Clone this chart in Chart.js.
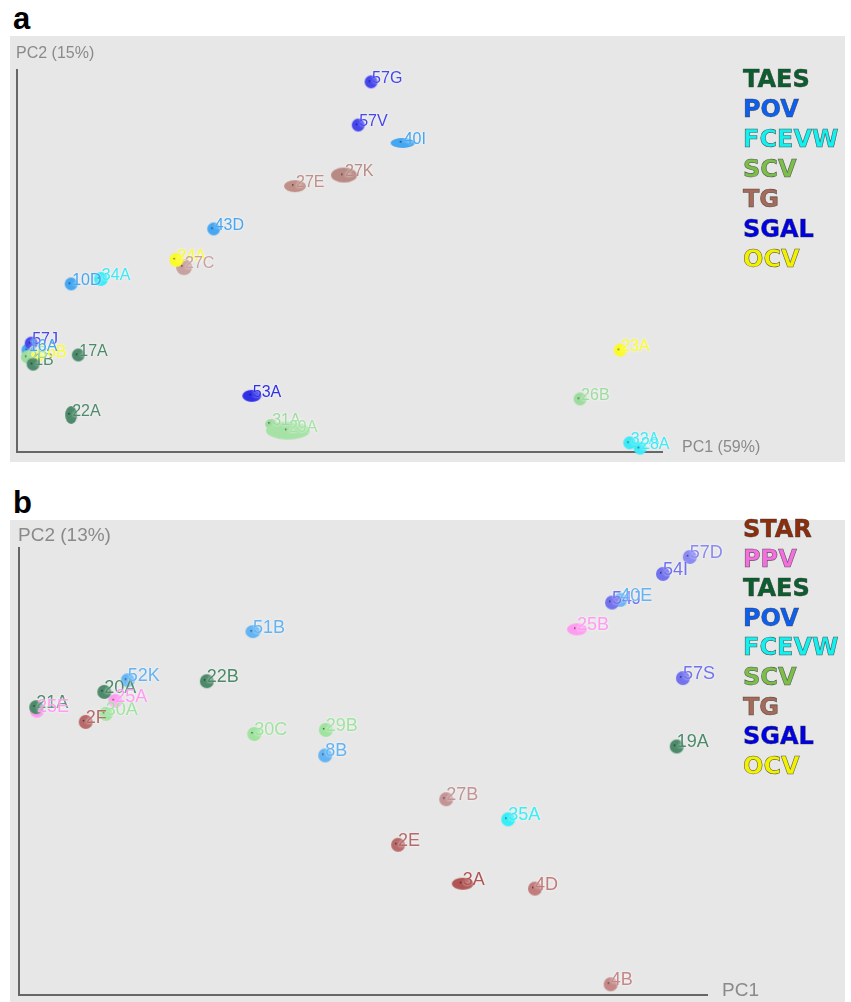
<!DOCTYPE html>
<html>
<head>
<meta charset="utf-8">
<script src="https://cdn.jsdelivr.net/npm/chart.js@4.4.1/dist/chart.umd.min.js"></script>
<style>
body{margin:0;background:#fff;}
#page{position:relative;width:851px;height:1002px;overflow:hidden;font-family:"Liberation Sans",Arial,sans-serif;}
.panel{position:absolute;left:10px;width:835px;background:#e7e7e7;}
.panel canvas{display:block;}
.tag{position:absolute;left:13px;font-weight:bold;font-size:31px;line-height:31px;color:#000;}
.keys{position:absolute;left:743px;font-family:"DejaVu Sans",sans-serif;font-weight:bold;font-size:24px;-webkit-text-stroke:0.6px rgba(50,50,50,0.75);}
</style>
</head>
<body>
<div id="page">
  <div class="tag" style="top:3px">a</div>
  <div class="panel" style="top:36px;height:426px"><canvas id="chartA" width="835" height="426"></canvas></div>
  <div class="keys" id="keysA" style="top:64px;line-height:30px"></div>

  <div class="tag" style="top:487px">b</div>
  <div class="panel" style="top:520px;height:482px"><canvas id="chartB" width="835" height="482"></canvas></div>
  <div class="keys" id="keysB" style="top:515px;line-height:29.6px"></div>
</div>

<script>
// ---- panel a data (PC scores rescaled 0-100)
const namesA = ['57G','57V','40I','27K','27E','43D','24A','27C','10D','34A','57J','16A','6B','36B','1B','17A','22A','53A','31A','29A','26B','23A','32A','28A'];
const groupsA = ['SGAL','SGAL','POV','TG','TG','POV','OCV','TG','POV','FCEVW','SGAL','POV','SCV','OCV','TAES','TAES','TAES','SGAL','SCV','SCV','SCV','OCV','FCEVW','FCEVW'];
const pc1A = [54.9,52.9,59.8,50.7,43.1,30.5,24.7,25.9,8.4,13.0,2.2,1.7,1.6,3.1,2.5,9.5,8.4,36.4,39.4,42.0,87.3,93.5,95.0,96.6];
const pc2A = [96.9,85.6,80.9,72.5,69.6,58.4,50.3,48.4,44.0,45.3,28.5,26.7,24.9,25.1,23.0,25.4,9.7,14.7,7.3,5.6,13.9,26.7,2.4,1.0];
const keysA = ['TAES','POV','FCEVW','SCV','TG','SGAL','OCV'];

// ---- panel b data
const namesB = ['57D','54I','54J','40E','25B','57S','19A','51B','52K','22B','20A','25A','21A','25E','30A','2F','30C','29B','8B','27B','35A','2E','3A','4D','4B'];
const groupsB = ['SGAL','SGAL','SGAL','POV','PPV','SGAL','TAES','POV','POV','TAES','TAES','PPV','TAES','PPV','SCV','TG','SCV','SCV','POV','TG','FCEVW','TG','TG','TG','TG'];
const pc1B = [97.5,93.6,86.2,87.4,81.1,96.5,95.6,34.0,15.8,27.3,12.4,14.0,2.5,2.6,12.6,9.7,34.2,44.6,44.5,62.1,71.1,55.1,64.5,75.0,86.0];
const pc2B = [98.0,94.2,87.8,88.4,81.8,70.9,55.6,81.3,70.4,70.2,67.8,65.8,64.4,63.6,62.9,61.1,58.4,59.3,53.6,43.8,39.3,33.6,24.9,23.8,2.4];
const keysB = ['STAR','PPV','TAES','POV','FCEVW','SCV','TG','SGAL','OCV'];

// colours
const keyColors = {STAR:'#8e2d0c',PPV:'#f46ee0',TAES:'#0b5e2e',POV:'#0c5ff0',FCEVW:'#12f0f0',SCV:'#7cbe4a',TG:'#a86a58',SGAL:'#0000e6',OCV:'#f2f200'};
const dotColorsA = {TAES:'#4d8a6b',POV:'#45a6f2',FCEVW:'#3ceaf6',SCV:'#9ddc9d',TG:'#c09088',SGAL:'#4646ee',OCV:'#fbfb2a'};
const dotColorsB = {TAES:'#4c8a6a',POV:'#64b4f4',FCEVW:'#38eef6',SCV:'#9fe39f',TG:'#b86a6a',SGAL:'#7272ee',PPV:'#ff9cf0'};
const drawOrderA = ['TG','POV','SCV','FCEVW','OCV','TAES','SGAL'];
const drawOrderB = ['POV','PPV','SCV','TG','FCEVW','TAES','SGAL'];

// marker shape / tint tweaks (styling only)
const looksA = {
  '40I':{rx:12,ry:5}, '27K':{rx:13,ry:7.5,color:'#b98a84'}, '27E':{rx:11,ry:6},
  '22A':{rx:6,ry:9}, '53A':{rx:9.5,ry:6,color:'#2f2fe8'}, '29A':{rx:22,ry:9,color:'#a6e2a6'},
  '31A':{rx:6,ry:5}, '27C':{rx:8,ry:8,color:'#c8a2a0'}, '24A':{rx:7,ry:7}, '34A':{rx:7,ry:7}
};
const looksB = {
  '25B':{rx:10,ry:6}, '3A':{rx:11,ry:6,color:'#b05454'}, '27B':{color:'#c49494'},
  '4D':{color:'#c27c7c'}, '4B':{color:'#c48888'}, '57D':{color:'#8a8af2'}, '51B':{rx:7.5,ry:6.5}
};

function blob(color, rx, ry){
  const c = document.createElement('canvas');
  c.width = Math.ceil(rx*2+4);
  c.height = Math.ceil(ry*2+4);
  const g = c.getContext('2d');
  g.fillStyle = color;
  g.beginPath();
  g.ellipse(c.width/2, c.height/2, rx, ry, 0, 0, Math.PI*2);
  g.fill();
  // tiny dark centre mark, sits a bit up-left
  g.fillStyle = 'rgba(0,0,0,0.55)';
  g.fillRect(Math.round(c.width/2-3), Math.round(c.height/2-2), 1.5, 1.5);
  return c;
}

function buildSets(names, groups, pc1, pc2, colors, order, looks, r){
  const sets = order.map(gr => {
    const idx = [];
    groups.forEach((g,i) => { if(g === gr) idx.push(i); });
    const tints = idx.map(i => (looks[names[i]] && looks[names[i]].color) || colors[gr]);
    return {
      label: gr,
      data: idx.map(i => ({x: pc1[i], y: pc2[i]})),
      names: idx.map(i => names[i]),
      textColors: tints,
      pointStyle: idx.map((i,k) => {
        const lk = looks[names[i]] || {};
        return blob(tints[k], lk.rx || r, lk.ry || r);
      }),
      pointRadius: 6,
      clip: false
    };
  });
  return sets.reverse(); // first dataset is drawn on top
}

const pointNames = {
  id:'pointNames',
  afterDatasetsDraw(chart, args, opts){
    const ctx = chart.ctx;
    ctx.save();
    ctx.font = opts.font;
    ctx.textBaseline = 'alphabetic';
    ctx.shadowColor = 'rgba(255,255,255,0.9)';
    ctx.shadowBlur = 3;
    chart.data.datasets.forEach((ds, i) => {
      chart.getDatasetMeta(i).data.forEach((pt, j) => {
        ctx.fillStyle = ds.textColors[j];
        ctx.fillText(ds.names[j], pt.x + opts.dx, pt.y + opts.dy);
      });
    });
    ctx.restore();
  }
};

const axisNames = {
  id:'axisNames',
  afterDraw(chart, args, opts){
    const {ctx, chartArea} = chart;
    ctx.save();
    ctx.font = opts.font;
    ctx.fillStyle = '#8a8a8a';
    ctx.textBaseline = 'alphabetic';
    ctx.fillText(opts.y, chartArea.left + opts.yPos[0], chartArea.top + opts.yPos[1]);
    ctx.fillText(opts.x, chartArea.right + opts.xPos[0], chartArea.bottom + opts.xPos[1]);
    ctx.restore();
  }
};

function axis(){
  return {
    type:'linear', min:0, max:100,
    grid:{display:false, drawTicks:false},
    ticks:{display:false},
    border:{display:true, color:'#666', width:2}
  };
}

function makeChart(id, datasets, padding, labelOpts, axisOpts){
  return new Chart(document.getElementById(id).getContext('2d'), {
    type:'scatter',
    data:{datasets:datasets},
    options:{
      responsive:false,
      animation:false,
      events:[],
      layout:{padding:padding},
      plugins:{
        legend:{display:false},
        tooltip:{enabled:false},
        pointNames:labelOpts,
        axisNames:axisOpts
      },
      scales:{x:axis(), y:axis()}
    },
    plugins:[pointNames, axisNames]
  });
}

makeChart('chartA',
  buildSets(namesA, groupsA, pc1A, pc2A, dotColorsA, drawOrderA, looksA, 6.5),
  {left:7, right:183, top:34, bottom:10},
  {font:'16px "Liberation Sans", Arial, sans-serif', dx:1, dy:1},
  {font:'16px "Liberation Sans", Arial, sans-serif', y:'PC2 (15%)', x:'PC1 (59%)', yPos:[-1,-12], xPos:[20,0]});

makeChart('chartB',
  buildSets(namesB, groupsB, pc1B, pc2B, dotColorsB, drawOrderB, looksB, 7),
  {left:9, right:138, top:28, bottom:4},
  {font:'18px "Liberation Sans", Arial, sans-serif', dx:0, dy:1},
  {font:'19px "Liberation Sans", Arial, sans-serif', y:'PC2 (13%)', x:'PC1', yPos:[-1,-7], xPos:[15,1]});

// legend words
function fillKeys(id, keys){
  const box = document.getElementById(id);
  keys.forEach(k => {
    const d = document.createElement('div');
    d.textContent = k;
    d.style.color = keyColors[k];
    box.appendChild(d);
  });
}
fillKeys('keysA', keysA);
fillKeys('keysB', keysB);
</script>
</body>
</html>
